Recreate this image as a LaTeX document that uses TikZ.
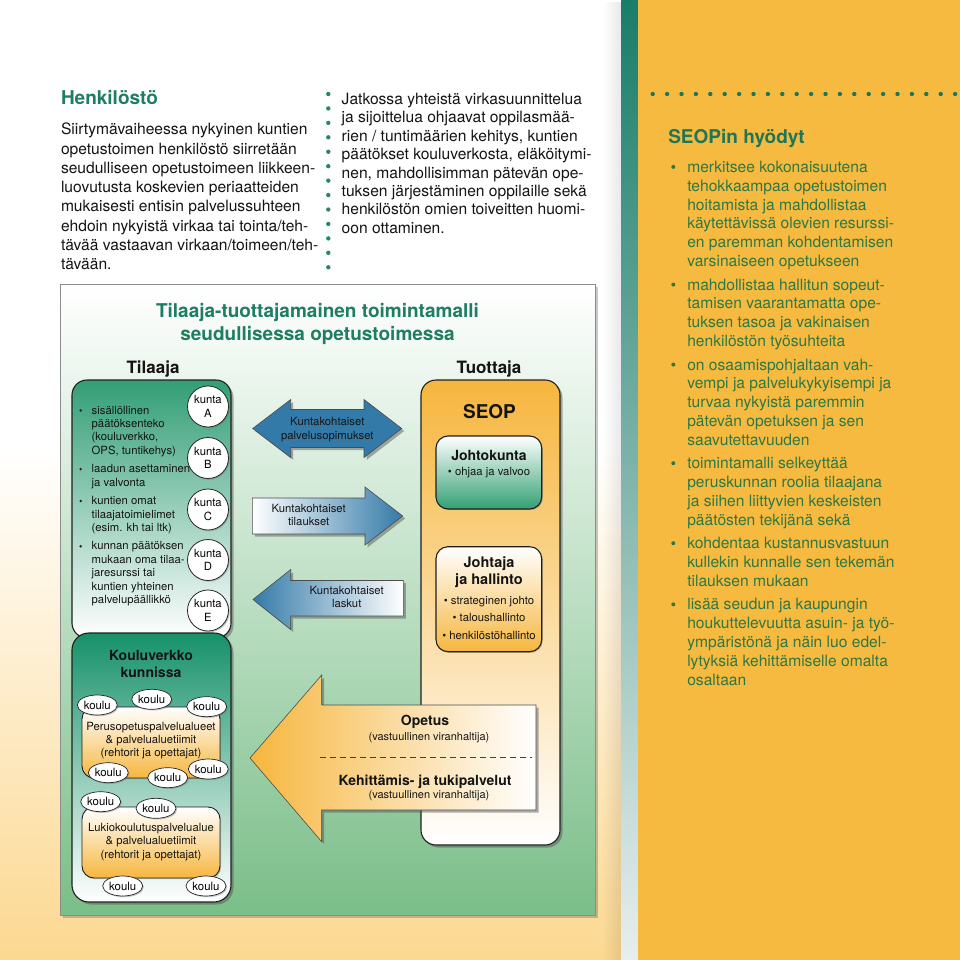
\documentclass[tikz,border=0pt]{standalone}
\usepackage{fontspec}
\setmainfont{TeX Gyre Heros}
\usetikzlibrary{shapes.geometric,shadows,fadings}

\definecolor{teal1}{RGB}{31,125,98}
\definecolor{tgreen}{RGB}{50,158,118}
\definecolor{tmid}{RGB}{170,216,195}
\definecolor{kgreen}{RGB}{22,145,105}
\definecolor{kmid}{RGB}{170,215,195}
\definecolor{ocol}{RGB}{246,182,62}
\definecolor{omid}{RGB}{251,226,172}
\definecolor{tumid}{RGB}{253,232,192}
\definecolor{jgreen}{RGB}{50,160,115}
\definecolor{jmid}{RGB}{215,236,226}
\definecolor{pageor}{RGB}{246,186,64}
\definecolor{peach}{RGB}{252,216,145}
\definecolor{blueA}{RGB}{52,122,168}
\definecolor{rgreen}{RGB}{46,120,66}
\definecolor{rhead}{RGB}{30,118,88}
\definecolor{stripT}{RGB}{25,125,105}
\definecolor{stripB}{RGB}{232,238,238}
\definecolor{frgreen}{RGB}{122,190,136}
\definecolor{frmid}{RGB}{220,237,224}
\definecolor{dotg}{RGB}{40,135,105}

\tikzfading[name=myfade, left color=transparent!100, right color=transparent!0]

\newcommand\ritem[3]{%
  \fill[rgreen] (673.3,{#2-5.4}) circle (2);
  \foreach \mytext [count=\myi from 0] in {#3}
    \node[rtxt, name=#1\myi] at (687.3,{#2+\myi*18.85}) {\mytext};
}
\newcommand\litem[3]{%
  \fill[black!85] (80.7,{#2-3.6}) circle (1.4);
  \foreach \mytext [count=\myi from 0] in {#3}
    \node[ltxt, name=#1\myi] at (91.7,{#2+\myi*13.4}) {\mytext};
}

\begin{document}
\begin{tikzpicture}[x=1pt,y=-1pt,
 every node/.style={inner sep=0pt, outer sep=0pt},
 bodyl/.style={anchor=base west, font=\fontsize{15.6}{18}\selectfont, text=black!92},
 rtxt/.style={anchor=base west, font=\fontsize{15.6}{18}\selectfont, text=rgreen},
 ltxt/.style={anchor=base west, font=\fontsize{11.3}{13}\selectfont, text=black!92},
 ctxt/.style={anchor=base, font=\fontsize{11.3}{13}\selectfont, text=black!92},
 cbold/.style={anchor=base, font=\bfseries\fontsize{14}{16}\selectfont, text=black!92},
 boxl/.style={draw=black!88, line width=1.1pt},
 shdw/.style={drop shadow={shadow xshift=2.5pt, shadow yshift=-2.5pt, opacity=0.45, fill=black!70}},
 shdwS/.style={drop shadow={shadow xshift=1.2pt, shadow yshift=-1.2pt, opacity=0.35, fill=black!60}},
 kunta/.style={circle, draw=black!85, line width=0.8pt, fill=white, minimum size=41pt, align=center, font=\fontsize{11.3}{13.3}\selectfont, shdwS},
 koulu/.style={ellipse, draw=black!85, line width=0.7pt, fill=white, minimum width=40pt, minimum height=20pt, font=\fontsize{11.4}{13}\selectfont, shdwS},
 barrow/.style={draw=black!70, line width=0.6pt, shdw},
]
\useasboundingbox (0,0) rectangle (960,960);

% ---------- page backgrounds ----------
\fill[white] (0,0) rectangle (621,450);
\shade[top color=white, bottom color=peach] (0,449) rectangle (621,960);
\fill[black, opacity=0.09, path fading=myfade] (603,0) rectangle (621,960);
\shade[top color=stripT, bottom color=stripB] (621,0) rectangle (638,960);
\fill[pageor] (638,0) rectangle (960,960);

% ---------- dotted separators ----------
\foreach \k in {0,...,12} \fill[dotg] (328.3,{94+\k*14.44}) circle (2.2);
\foreach \k in {0,...,21} \fill[rhead] ({652.7+\k*14.4},94) circle (2.2);

% ---------- top-left text ----------
\node[anchor=base west, font=\bfseries\fontsize{19}{22}\selectfont, text=teal1] (hhead) at (61,105) {Henkilöstö};
\foreach \mytext [count=\myi from 0] in {Siirtymävaiheessa nykyinen kuntien, opetustoimen henkilöstö siirretään, seudulliseen opetustoimeen liikkeen-, luovutusta koskevien periaatteiden, mukaisesti entisin palvelussuhteen, ehdoin nykyistä virkaa tai tointa/teh-, tävää vastaavan virkaan/toimeen/teh-, tävään.}
  \node[bodyl, name=hl\myi] at (61,{135+\myi*19.2}) {\mytext};

% ---------- top-middle text ----------
\foreach \mytext [count=\myi from 0] in {Jatkossa yhteistä virkasuunnittelua, ja sijoittelua ohjaavat oppilasmää-, {rien / tuntimäärien kehitys, kuntien}, {päätökset kouluverkosta, eläköitymi-}, {nen, mahdollisimman pätevän ope-}, tuksen järjestäminen oppilaille sekä, henkilöstön omien toiveitten huomi-, oon ottaminen.}
  \node[bodyl, name=ml\myi] at (341.7,{104.3+\myi*18.43}) {\mytext};

% ---------- right column ----------
\node[anchor=base west, font=\bfseries\fontsize{19}{22}\selectfont, text=rhead] (shead) at (668.3,144) {SEOPin hyödyt};
\ritem{ra}{172.3}{merkitsee kokonaisuutena, tehokkaampaa opetustoimen, hoitamista ja mahdollistaa, käytettävissä olevien resurssi-, en paremman kohdentamisen, varsinaiseen opetukseen}
\ritem{rb}{290.0}{mahdollistaa hallitun sopeut-, tamisen vaarantamatta ope-, tuksen tasoa ja vakinaisen, henkilöstön työsuhteita}
\ritem{rc}{370.0}{on osaamispohjaltaan vah-, vempi ja palvelukykyisempi ja, turvaa nykyistä paremmin, pätevän opetuksen ja sen, saavutettavuuden}
\ritem{rd}{468.6}{toimintamalli selkeyttää, peruskunnan roolia tilaajana, ja siihen liittyvien keskeisten, päätösten tekijänä sekä}
\ritem{re}{548.6}{kohdentaa kustannusvastuun, kullekin kunnalle sen tekemän, tilauksen mukaan}
\ritem{rf}{609.8}{lisää seudun ja kaupungin, houkuttelevuutta asuin- ja työ-, ympäristönä ja näin luo edel-, lytyksiä kehittämiselle omalta, osaltaan}

% ---------- diagram frame ----------
\draw[draw=black!45, line width=0.8pt, top color=white, middle color=frmid, bottom color=frgreen,
      drop shadow={shadow xshift=3pt, shadow yshift=-3pt, opacity=0.3, fill=black!70}] (60,284) rectangle (595,915);

\node[anchor=base, font=\bfseries\fontsize{19}{22}\selectfont, text=teal1] (title1) at (317.5,317.3) {Tilaaja-tuottajamainen toimintamalli};
\node[anchor=base, font=\bfseries\fontsize{19}{22}\selectfont, text=teal1] (title2) at (317.5,340.7) {seudullisessa opetustoimessa};
\node[anchor=base, font=\bfseries\fontsize{17}{20}\selectfont, text=black!92] (tilaaja) at (153,373.5) {Tilaaja};
\node[anchor=base, font=\bfseries\fontsize{17}{20}\selectfont, text=black!92] (tuottaja) at (489,373.5) {Tuottaja};

% ---------- Tilaaja box ----------
\draw[boxl, rounded corners=15pt, top color=tgreen, middle color=tmid, bottom color=white, shdw] (72,380) rectangle (231,638);
\litem{la}{414}{sisällöllinen, päätöksenteko, {(kouluverkko,}, {OPS, tuntikehys)}}
\litem{lb}{472.7}{laadun asettaminen, ja valvonta}
\litem{lc}{504.6}{kuntien omat, tilaajatoimielimet, (esim. kh tai ltk)}
\litem{ld}{549.9}{kunnan päätöksen, mukaan oma tilaa-, jaresurssi tai, kuntien yhteinen, palvelupäällikkö}

\node[kunta] (kA) at (208,406.5) {kunta\\A};
\node[kunta] (kB) at (208,458) {kunta\\B};
\node[kunta] (kC) at (208,509.5) {kunta\\C};
\node[kunta] (kD) at (208,560) {kunta\\D};
\node[kunta] (kE) at (208,610.5) {kunta\\E};

% ---------- Kouluverkko box ----------
\draw[boxl, rounded corners=17pt, top color=kgreen, middle color=kmid, bottom color=white, shdw] (72,633) rectangle (231,902);
\node[cbold] (kv1) at (151,660.5) {Kouluverkko};
\node[cbold] (kv2) at (151,677.3) {kunnissa};

\draw[boxl, line width=0.9pt, rounded corners=12pt, top color=white, middle color=omid, bottom color=ocol, shdwS] (82,707) rectangle (220,778);
\node[ctxt] (pe1) at (151,730) {Perusopetuspalvelualueet};
\node[ctxt] (pe2) at (151,743.3) {\& palvelualuetiimit};
\node[ctxt] (pe3) at (151,756.7) {(rehtorit ja opettajat)};

\draw[boxl, line width=0.9pt, rounded corners=12pt, top color=white, middle color=omid, bottom color=ocol, shdwS] (82,807) rectangle (220,878);
\node[ctxt] (lu1) at (151,831.3) {Lukiokoulutuspalvelualue};
\node[ctxt] (lu2) at (151,844.7) {\& palvelualuetiimit};
\node[ctxt] (lu3) at (151,858) {(rehtorit ja opettajat)};

\node[koulu] (k1) at (97.3,705) {koulu};
\node[koulu] (k2) at (151.7,699.3) {koulu};
\node[koulu] (k3) at (206.7,706.7) {koulu};
\node[koulu] (k4) at (108.3,772.7) {koulu};
\node[koulu] (k5) at (167.7,777.7) {koulu};
\node[koulu] (k6) at (208.3,769) {koulu};
\node[koulu] (k7) at (100.7,801.7) {koulu};
\node[koulu] (k8) at (156,808.3) {koulu};
\node[koulu] (k9) at (122.7,886) {koulu};
\node[koulu] (k10) at (206,886) {koulu};

% ---------- Tuottaja box ----------
\draw[boxl, rounded corners=15pt, top color=ocol, middle color=tumid, bottom color=white, shdw] (421,380) rectangle (560,845);
\node[anchor=base, font=\bfseries\fontsize{19}{22}\selectfont, text=black!92] (seop) at (489.5,418.3) {SEOP};

\draw[boxl, rounded corners=12pt, top color=white, middle color=jmid, bottom color=jgreen, shdwS] (436,436) rectangle (541.7,509);
\node[cbold] (jk1) at (489,460) {Johtokunta};
\node[ctxt] (jk2) at (489,475) {• ohjaa ja valvoo};

\draw[boxl, rounded corners=12pt, top color=white, middle color=omid, bottom color=ocol, shdwS] (436,546.7) rectangle (541.7,651.7);
\node[cbold, font=\bfseries\fontsize{14.5}{16}\selectfont] (jh1) at (489,567.3) {Johtaja};
\node[cbold, font=\bfseries\fontsize{14.5}{16}\selectfont] (jh2) at (489,584.3) {ja hallinto};
\node[ctxt] (jh3) at (489,604) {• strateginen johto};
\node[ctxt] (jh4) at (489,621.7) {• taloushallinto};
\node[ctxt] (jh5) at (489,639) {• henkilöstöhallinto};

% ---------- blue arrows ----------
\path[barrow, left color=blueA, middle color=white, right color=blueA]
  (252.7,428.5) -- (290.7,399.5) -- (290.7,409.5) -- (364,409.5) -- (364,399.5) -- (401.7,428.5)
  -- (364,457.5) -- (364,447.5) -- (290.7,447.5) -- (290.7,457.5) -- cycle;
\node[ctxt] (a1a) at (327.3,425.7) {Kuntakohtaiset};
\node[ctxt] (a1b) at (327.3,439) {palvelusopimukset};

\path[barrow, left color=white, right color=blueA]
  (252.3,498) -- (365,498) -- (365,487) -- (402.7,516) -- (365,545) -- (365,534) -- (252.3,534) -- cycle;
\node[ctxt] (a2a) at (308.7,512.3) {Kuntakohtaiset};
\node[ctxt] (a2b) at (308.7,525.7) {tilaukset};

\path[barrow, left color=blueA, right color=white]
  (253,599.5) -- (290.7,569.5) -- (290.7,580.5) -- (403.3,580.5) -- (403.3,616) -- (290.7,616) -- (290.7,629.5) -- cycle;
\node[ctxt] (a3a) at (346.7,594) {Kuntakohtaiset};
\node[ctxt] (a3b) at (346.7,607.3) {laskut};

% ---------- big orange arrow ----------
\path[barrow, left color=ocol, middle color=omid, right color=white]
  (250,758) -- (321.7,675) -- (321.7,705) -- (536,705) -- (536,810) -- (321.7,810) -- (321.7,841.7) -- cycle;
\node[cbold] (op1) at (425,725.3) {Opetus};
\node[ctxt, font=\fontsize{11}{13}\selectfont] (op2) at (429,740) {(vastuullinen viranhaltija)};
\coordinate (dl) at (320,757.7);
\coordinate (dr) at (531.7,757.7);
\draw[black!75, line width=0.7pt, dash pattern=on 6pt off 4pt] (dl) -- (dr);
\node[cbold] (kt1) at (425,785) {Kehittämis- ja tukipalvelut};
\node[ctxt, font=\fontsize{11}{13}\selectfont] (kt2) at (429,798.3) {(vastuullinen viranhaltija)};
\end{tikzpicture}
\end{document}
